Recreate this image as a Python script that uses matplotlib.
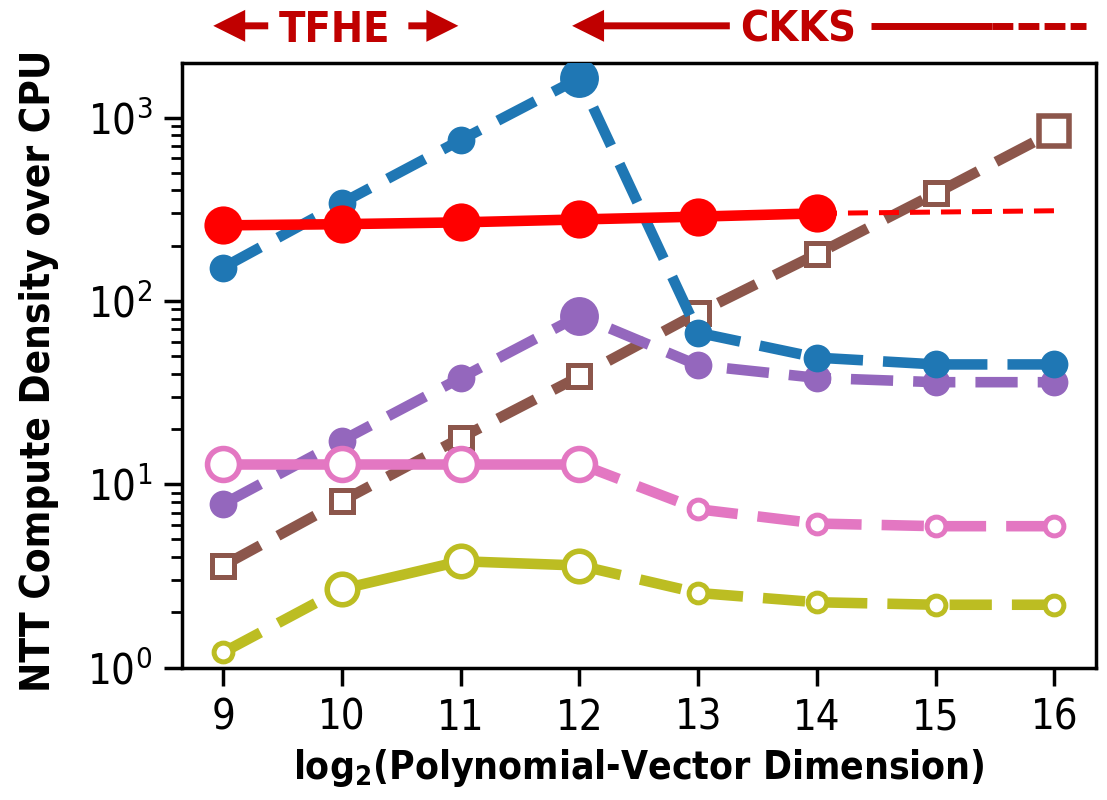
import matplotlib
matplotlib.use("Agg")
import matplotlib.pyplot as plt
import matplotlib.transforms as mtransforms
from matplotlib import font_manager
from matplotlib.patches import FancyArrowPatch
from matplotlib.lines import Line2D

# polynomial-vector dimension (log2)
dims = [9, 10, 11, 12, 13, 14, 15, 16]

# NTT compute density over CPU, one list per design
blue_vals = [152, 342, 754, 1640, 67, 49, 45, 45]
purple_vals = [7.8, 17.3, 38, 83, 44.5, 38, 36, 36]
brown_vals = [3.6, 8.1, 17.9, 38.7, 86, 180, 386, 840]
pink_vals = [12.9, 12.9, 12.9, 12.9, 7.3, 6.1, 5.9, 5.9]
olive_vals = [1.21, 2.68, 3.80, 3.60, 2.55, 2.27, 2.20, 2.20]

red_dims = [9, 10, 11, 12, 13, 14]
red_vals = [258, 262, 268, 278, 288, 300]
red_ext_dims = [14, 15, 16]
red_ext_vals = [300, 305, 310]

y_ticks = [1, 10, 100, 1000]

ANNOT = "#c00000"
DASH = (0, (4.0, 1.9))
LW = 7.6


def condensed_font():
    entries = font_manager.fontManager.ttflist
    for want in ["DejaVu Sans Condensed", "Liberation Sans Narrow"]:
        if any(e.name == want for e in entries):
            return want, "normal"
    if any(e.name == "DejaVu Sans" and e.stretch == "condensed" for e in entries):
        return "DejaVu Sans", "condensed"
    return "DejaVu Sans", "normal"


fam, stretch = condensed_font()
plt.rcParams["font.family"] = [fam, "DejaVu Sans"]
plt.rcParams["font.stretch"] = stretch
plt.rcParams["mathtext.fontset"] = "custom"
plt.rcParams["mathtext.rm"] = fam
plt.rcParams["mathtext.bf"] = fam + ":bold"


def plot_series(ax, xs, ys, color, marker, hollow, small, big, solid=None, big_at=(), z=2):
    fc = "white" if hollow else color
    n = len(xs)
    pieces = [(0, n - 1)] if solid is None else [(0, solid[0]), (solid[1], n - 1)]
    for a, b in pieces:
        if b > a:
            ax.plot(xs[a:b + 1], ys[a:b + 1], linestyle=DASH, lw=LW, color=color,
                    marker=marker, ms=small[0], mew=small[1], mfc=fc, mec=color, zorder=z)
    if solid is not None:
        s, e = solid
        ax.plot(xs[s:e + 1], ys[s:e + 1], "-", lw=LW, color=color,
                marker=marker, ms=big[0], mew=big[1], mfc=fc, mec=color, zorder=z + 0.1)
    for i in big_at:
        ax.plot([xs[i]], [ys[i]], linestyle="none", marker=marker, ms=big[0],
                mew=big[1], mfc=fc, mec=color, zorder=z + 0.1)


fig = plt.figure(figsize=(11.07, 8), dpi=100)
ax = fig.add_axes([0.1641, 0.1656, 0.826, 0.756])

plot_series(ax, dims, brown_vals, "#8c564b", "s", True, (16, 3.6), (21.5, 4), big_at=[7], z=2)
plot_series(ax, dims, purple_vals, "#9467bd", "o", False, (20, 0), (28, 0), big_at=[3], z=3)
plot_series(ax, dims, blue_vals, "#1f77b4", "o", False, (20, 0), (28, 0), big_at=[3], z=4)
plot_series(ax, dims, pink_vals, "#e377c2", "o", True, (13.5, 3.6), (23, 4), solid=(0, 3), z=5)
plot_series(ax, dims, olive_vals, "#bcbd22", "o", True, (13.5, 3.6), (22, 4), solid=(1, 3), z=6)

ax.plot(red_ext_dims, red_ext_vals, linestyle=(0, (4.0, 2.2)), lw=3.6, color="red", zorder=7)
ax.plot(red_dims, red_vals, "-", lw=LW, color="red", marker="o", ms=27.5, mew=0, zorder=7.1)

ax.set_yscale("log")
ax.set_xlim(8.65, 16.35)
ax.set_ylim(1, 1990)
ax.set_xticks(dims)
ax.set_yticks(y_ticks)

for sp in ax.spines.values():
    sp.set_linewidth(2.5)
ax.tick_params(axis="both", which="major", direction="out", length=13, width=2.5,
               labelsize=30, pad=8)
ax.tick_params(axis="y", which="minor", direction="out", length=8, width=2)

ax.set_xlabel(r"log$_{\mathdefault{2}}$(Polynomial-Vector Dimension)",
              fontsize=28, fontweight="bold", labelpad=6)
ax.set_ylabel("NTT Compute Density over CPU", fontsize=29, fontweight="bold")
ax.yaxis.set_label_coords(-0.134, 0.49)

# scheme ranges above the plot
trans = mtransforms.blended_transform_factory(ax.transData, ax.transAxes)
arrow_y = 1.061
text_y = 1.035


def top_arrow(tail, tip):
    ax.add_patch(FancyArrowPatch((tail, arrow_y), (tip, arrow_y), transform=trans,
                                 arrowstyle="simple,head_length=2.3,head_width=2.3,tail_width=0.5",
                                 mutation_scale=10, color=ANNOT, lw=0, shrinkA=0, shrinkB=0,
                                 clip_on=False))


top_arrow(9.379, 8.916)
top_arrow(10.559, 10.980)
top_arrow(13.266, 11.938)
ax.text(9.937, text_y, "TFHE", transform=trans, ha="center", va="baseline",
        fontsize=31, fontweight="bold", color=ANNOT)
ax.text(13.842, text_y, "CKKS", transform=trans, ha="center", va="baseline",
        fontsize=31, fontweight="bold", color=ANNOT)
ax.add_line(Line2D([14.451, 15.47], [arrow_y, arrow_y], transform=trans, lw=5,
                   color=ANNOT, clip_on=False, solid_capstyle="butt"))
ax.add_line(Line2D([15.47, 16.264], [arrow_y, arrow_y], transform=trans, lw=5,
                   color=ANNOT, clip_on=False, linestyle=(0, (3.0, 0.75))))

fig.savefig("out.png", dpi=100)
